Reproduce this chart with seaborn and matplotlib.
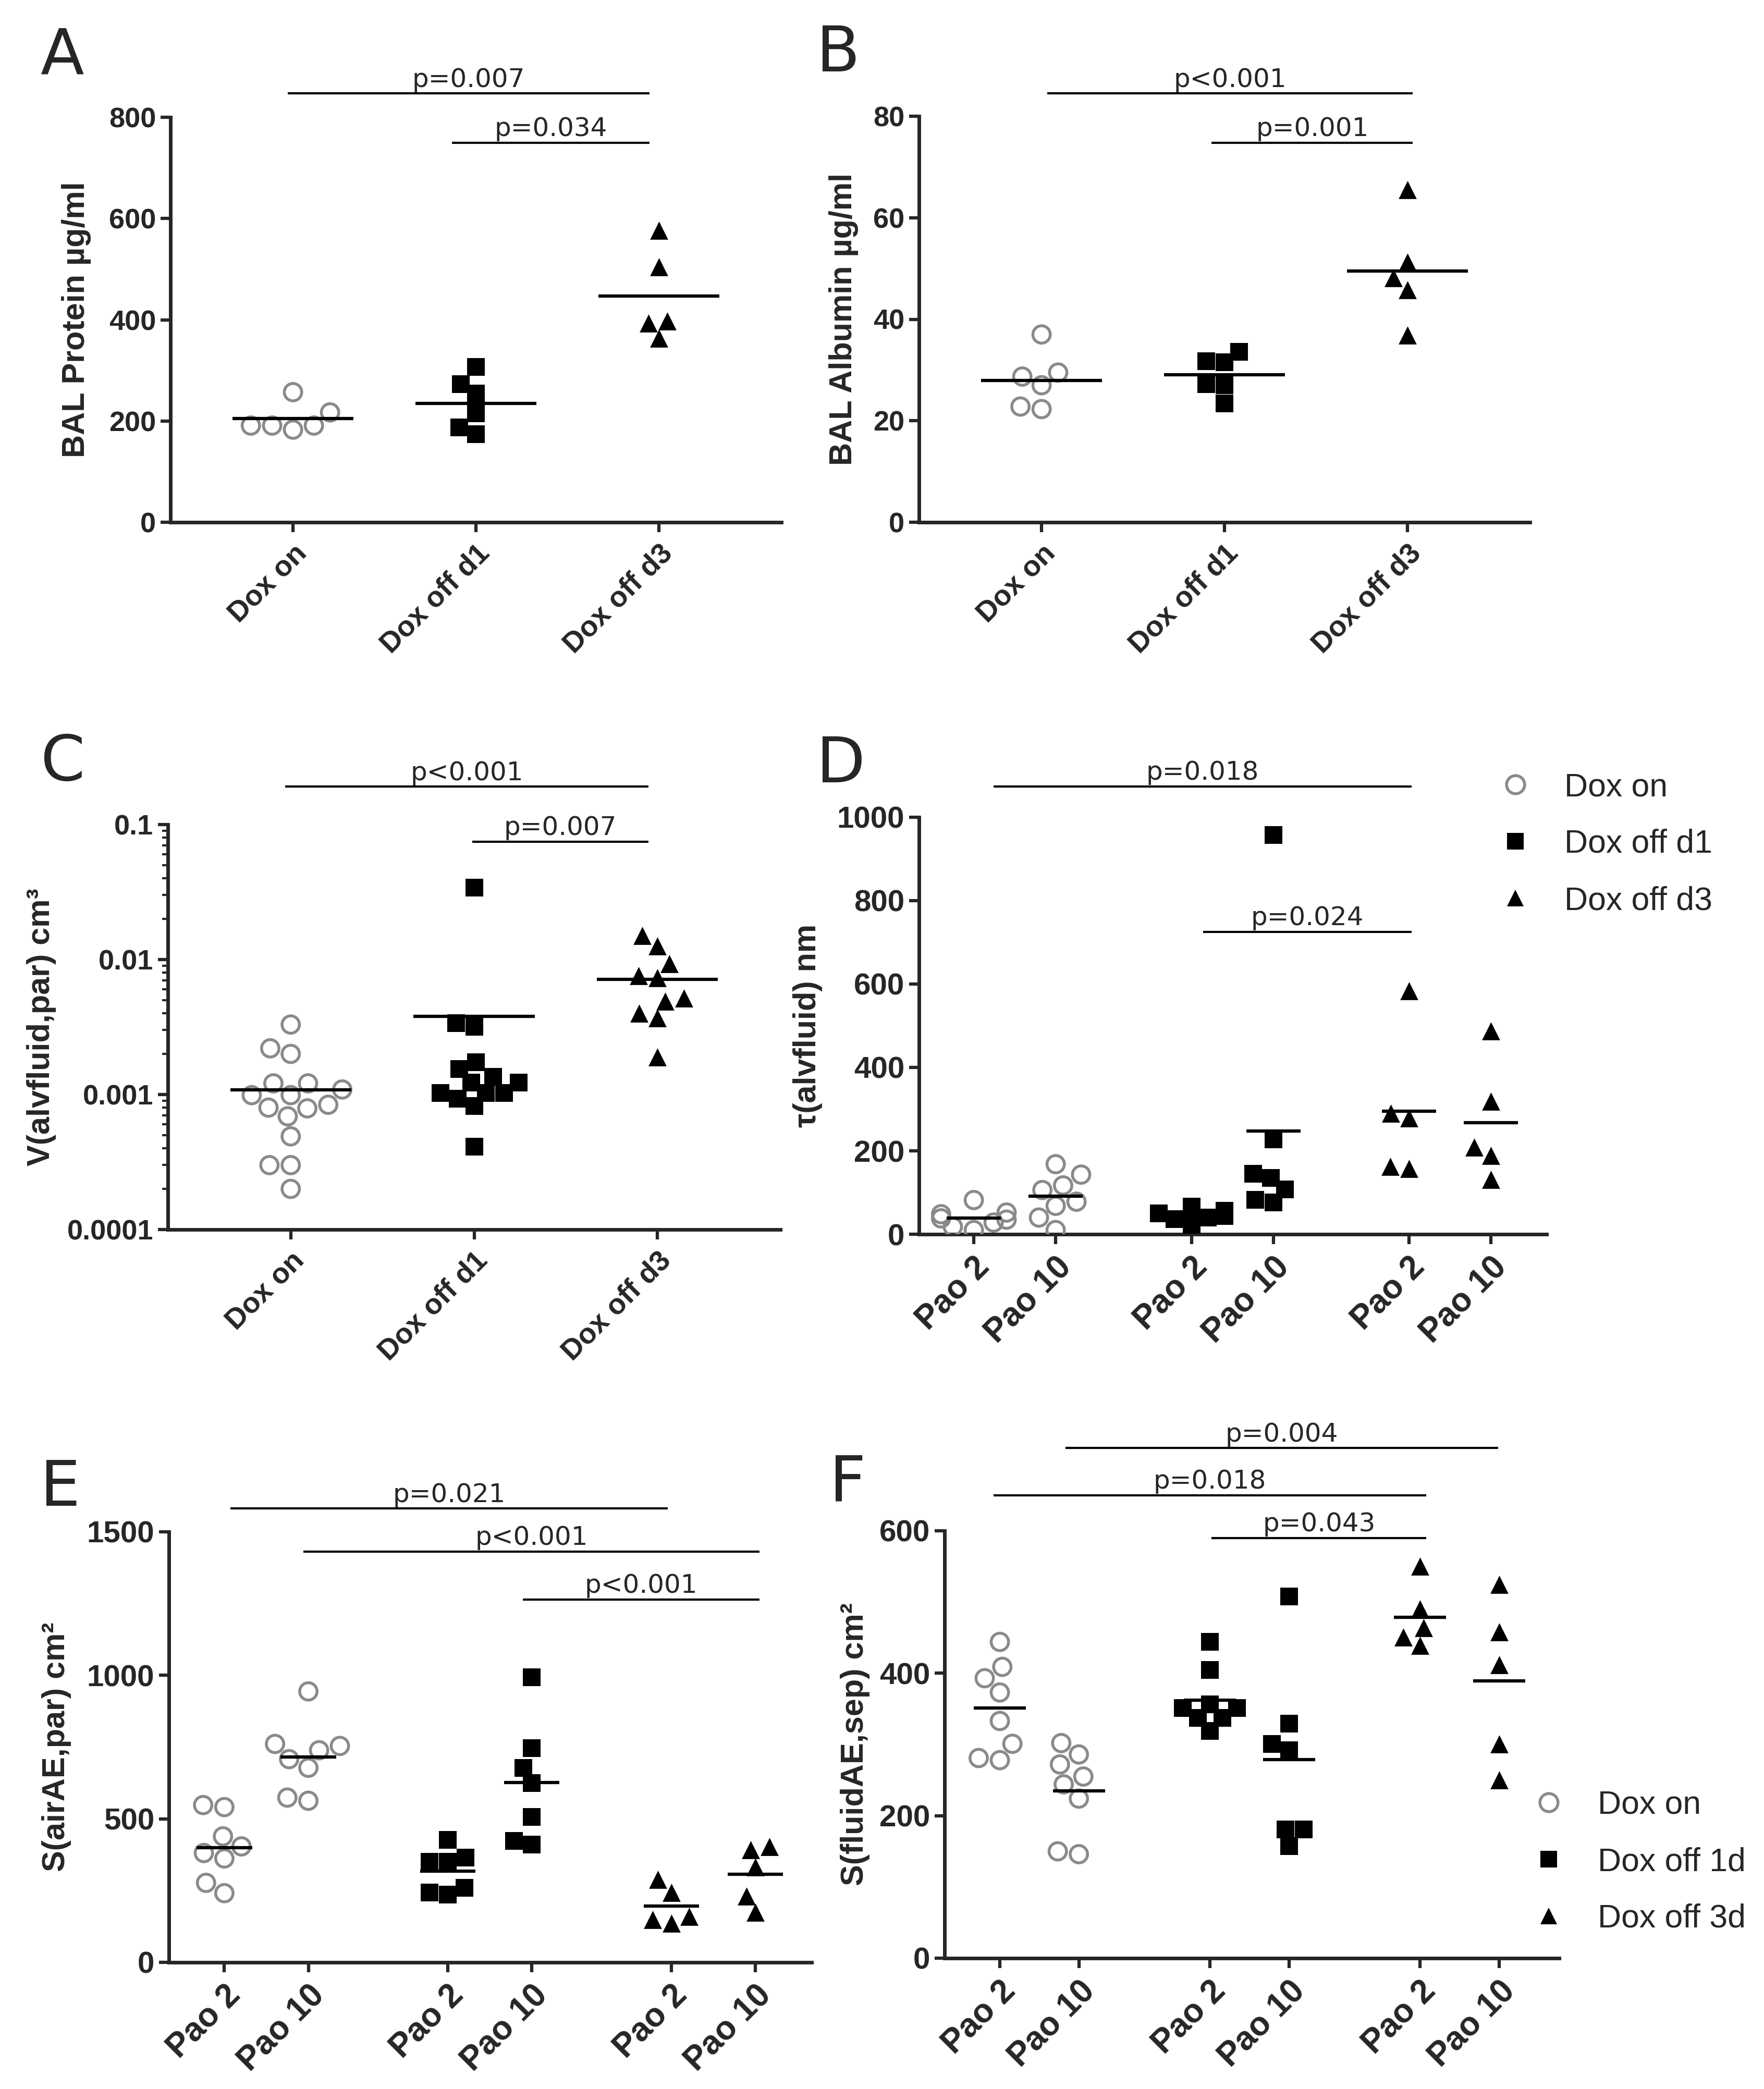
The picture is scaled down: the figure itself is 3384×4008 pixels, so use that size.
import numpy as np
import pandas as pd
import matplotlib
matplotlib.use('Agg')
import matplotlib.pyplot as plt
import seaborn as sns
from matplotlib.lines import Line2D
from matplotlib.ticker import LogLocator, NullFormatter

# ---------------------------------------------------------------
# data
# ---------------------------------------------------------------
groups = ['Dox on', 'Dox off d1', 'Dox off d3']
pao_labels = ['Pao 2', 'Pao 10']

# A  BAL protein
a_on = [257, 217, 191, 191, 191, 183]
a_d1 = [307, 273, 254, 215, 187, 174]
a_d3 = [577, 504, 397, 393, 363]

# B  BAL albumin
b_on = [37.0, 29.5, 28.7, 27.0, 22.8, 22.3]
b_d1 = [33.6, 31.7, 31.5, 27.2, 27.0, 23.4]
b_d3 = [65.5, 51.2, 48.2, 45.8, 36.9]

# C  V(alvfluid,par)
c_on = [0.0033, 0.0022, 0.0020, 0.00121, 0.00121, 0.00109, 0.00099, 0.00099,
        0.00084, 0.0008, 0.00079, 0.00069, 0.00049, 0.0003, 0.0003, 0.0002]
c_d1 = [0.0342, 0.00337, 0.00318, 0.00174, 0.00154, 0.00135, 0.00123, 0.00123,
        0.00103, 0.00103, 0.00103, 0.00093, 0.00082, 0.00041]
c_d3 = [0.0151, 0.0126, 0.0093, 0.0076, 0.0073, 0.0052, 0.0049, 0.0040, 0.0037, 0.0019]

# D  tau(alvfluid)   (Pao 2, Pao 10) per group
d_on = ([82, 52, 48, 38, 35, 28, 18, 10], [168, 143, 117, 106, 78, 68, 40, 10])
d_d1 = ([66, 56, 50, 44, 40, 36, 22], [958, 228, 145, 135, 108, 82, 76])
d_d3 = ([584, 290, 279, 162, 157], [488, 319, 209, 189, 131])

# E  S(airAE,par)
e_on = ([548, 541, 439, 404, 381, 362, 277, 241], [944, 761, 754, 739, 708, 678, 574, 563])
e_d1 = ([426, 365, 350, 350, 259, 244, 236], [993, 746, 678, 624, 507, 423, 411])
e_d3 = ([289, 244, 160, 149, 137], [404, 393, 332, 231, 175])

# F  S(fluidAE,sep)
f_on = ([444, 409, 393, 373, 333, 301, 281, 278], [302, 286, 272, 255, 244, 224, 150, 146])
f_d1 = ([444, 405, 356, 351, 351, 337, 337, 319], [508, 329, 301, 292, 181, 181, 157])
f_d3 = ([550, 490, 464, 451, 439], [525, 458, 412, 301, 250])

# significance bars: (x start, x end, y, text)
a_sig = [(-0.03, 1.95, 847, 'p=0.007'), (0.87, 1.95, 750, 'p=0.034')]
b_sig = [(0.03, 2.03, 84.5, 'p<0.001'), (0.93, 2.03, 74.8, 'p=0.001')]
c_sig = [(-0.03, 1.95, 0.191, 'p<0.001'), (0.99, 1.95, 0.0746, 'p=0.007')]
d_sig = [(0.24, 5.35, 1074, 'p=0.018'), (2.80, 5.35, 725, 'p=0.024')]
e_sig = [(0.07, 5.28, 1581, 'p=0.021'), (0.94, 6.37, 1431, 'p<0.001'),
         (3.55, 6.37, 1264, 'p<0.001')]
f_sig = [(0.83, 6.31, 716, 'p=0.004'), (-0.08, 5.40, 650, 'p=0.018'),
         (2.68, 5.40, 590, 'p=0.043')]

# ---------------------------------------------------------------
W, H, DPI = 3384, 4008, 100
GRAY = '#8a8a8a'
pair_base = [0, 2.66, 5.32]

sns.set_style('ticks')
plt.rcParams['font.family'] = ['Liberation Sans', 'DejaVu Sans']

styles = {
    'Dox on': dict(marker='o', color=GRAY, facecolor='none', edgecolor=GRAY,
                   linewidth=4, size=24),
    'Dox off d1': dict(marker='s', color='black', edgecolor='black', linewidth=0, size=24),
    'Dox off d3': dict(marker='^', color='black', edgecolor='black', linewidth=0, size=25),
}

fig = plt.figure(figsize=(W / DPI, H / DPI), dpi=DPI)


def add_ax(l, r, t, b):
    return fig.add_axes([l / W, 1 - b / H, (r - l) / W, (b - t) / H])


def style_axes(ax, ylabel, label_right, left_px, width_px, ytick_size):
    sns.despine(ax=ax)
    for s in ['left', 'bottom']:
        ax.spines[s].set_linewidth(5)
    ax.tick_params(axis='both', which='major', direction='out', length=14,
                   width=4.5, pad=6)
    ax.tick_params(axis='y', labelsize=ytick_size)
    ax.tick_params(axis='x', pad=10)
    for lab in ax.get_yticklabels():
        lab.set_fontweight('bold')
    ax.set_xlabel('')
    ax.set_ylabel(ylabel, fontsize=44, fontweight='bold')
    ax.yaxis.set_label_coords((label_right - left_px) / width_px, 0.5)


def add_sig(ax, sig):
    for x0, x1, y, txt in sig:
        ax.plot([x0, x1], [y, y], color='black', lw=3, clip_on=False, solid_capstyle='butt')
        ax.annotate(txt, xy=((x0 + x1) / 2, y), xytext=(0, 9), textcoords='offset points',
                    ha='center', va='baseline', fontsize=36, family='DejaVu Sans',
                    annotation_clip=False)


def cat_panel(rect, data, ylim, yticks, ylabel, label_right, sig, log=False, ticklabels=None):
    ax = add_ax(*rect)
    if log:
        ax.set_yscale('log')
    ax.set_ylim(*ylim)
    for i, (g, vals) in enumerate(zip(groups, data)):
        df = pd.DataFrame({'group': g, 'value': vals})
        sns.swarmplot(data=df, x='group', y='value', order=groups, ax=ax,
                      warn_thresh=1, zorder=3, **styles[g])
        ax.hlines(np.mean(vals), i - 0.33, i + 0.33, colors='black', lw=4.5, zorder=4)
    ax.set_xlim(-0.67, 2.67)
    ax.set_ylim(*ylim)
    ax.set_yticks(yticks, ticklabels if ticklabels else [str(t) for t in yticks])
    ax.set_xticks(range(3), groups, rotation=45, ha='right', rotation_mode='anchor',
                  fontsize=40, fontweight='bold')
    style_axes(ax, ylabel, label_right, rect[0], rect[1] - rect[0], 39)
    add_sig(ax, sig)
    return ax


def pair_panel(rect, data, xlim, ylim, yticks, ylabel, label_right, sig):
    ax = add_ax(*rect)
    ax.set_ylim(*ylim)
    positions = []
    for base, g, (v2, v10) in zip(pair_base, groups, data):
        df = pd.DataFrame({'pos': [base] * len(v2) + [base + 1] * len(v10),
                           'value': list(v2) + list(v10)})
        sns.swarmplot(data=df, x='pos', y='value', native_scale=True, orient='x', ax=ax,
                      warn_thresh=1, zorder=3, **styles[g])
        for p, vals in ((base, v2), (base + 1, v10)):
            ax.hlines(np.mean(vals), p - 0.33, p + 0.33, colors='black', lw=4.5, zorder=4)
            positions.append(p)
    ax.set_xlim(*xlim)
    ax.set_ylim(*ylim)
    ax.set_yticks(yticks, [str(t) for t in yticks])
    ax.set_xticks(positions, pao_labels * 3, rotation=45, ha='right', rotation_mode='anchor',
                  fontsize=46, fontweight='bold')
    style_axes(ax, ylabel, label_right, rect[0], rect[1] - rect[0], 42)
    add_sig(ax, sig)
    return ax


# A
cat_panel((327, 1499, 225, 1002), [a_on, a_d1, a_d3], (0, 800), [0, 200, 400, 600, 800],
          'BAL Protein µg/ml', 175, a_sig)
# B
cat_panel((1763, 2935, 223, 1002), [b_on, b_d1, b_d3], (0, 80), [0, 20, 40, 60, 80],
          'BAL Albumin µg/ml', 1647, b_sig)
# C
axc = cat_panel((322, 1497, 1582, 2359), [c_on, c_d1, c_d3], (1e-4, 0.1),
                [1e-4, 1e-3, 1e-2, 1e-1], 'V(alvfluid,par) cm³', 108, c_sig, log=True,
                ticklabels=['0.0001', '0.001', '0.01', '0.1'])
axc.yaxis.set_minor_locator(LogLocator(base=10, subs=np.arange(2, 10)))
axc.yaxis.set_minor_formatter(NullFormatter())
axc.tick_params(axis='y', which='minor', direction='out', length=8, width=3)

# D
axd = pair_panel((1763, 2967, 1568, 2368), [d_on, d_d1, d_d3], (-0.67, 7.0), (0, 1000),
                 [0, 200, 400, 600, 800, 1000], 'τ(alvfluid) nm', 1578, d_sig)
# E
axe = pair_panel((324, 1557, 2939, 3765), [e_on, e_d1, e_d3], (-0.66, 6.99), (0, 1500),
                 [0, 500, 1000, 1500], 'S(airAE,par) cm²', 137, e_sig)
# F
axf = pair_panel((1812, 2991, 2937, 3757), [f_on, f_d1, f_d3], (-0.70, 7.08), (0, 600),
                 [0, 200, 400, 600], 'S(fluidAE,sep) cm²', 1669, f_sig)


def legend_handles():
    return [Line2D([], [], ls='none', marker='o', ms=25, mfc='none', mec=GRAY, mew=4),
            Line2D([], [], ls='none', marker='s', ms=23, mfc='black', mec='black', mew=0),
            Line2D([], [], ls='none', marker='^', ms=23, mfc='black', mec='black', mew=0)]


fig.legend(legend_handles(), ['Dox on', 'Dox off d1', 'Dox off d3'], loc='upper left',
           bbox_to_anchor=(2876 / W, 1 - 1481 / H), frameon=False, fontsize=45,
           handlelength=1.0, handletextpad=1.0, labelspacing=0.8, borderpad=0,
           borderaxespad=0)
fig.legend(legend_handles(), ['Dox on', 'Dox off 1d', 'Dox off 3d'], loc='upper left',
           bbox_to_anchor=(2940 / W, 1 - 3434 / H), frameon=False, fontsize=45,
           handlelength=1.0, handletextpad=1.0, labelspacing=0.8, borderpad=0,
           borderaxespad=0)

# panel letters
for letter, x, y in [('A', 77, 142), ('B', 1566, 137), ('C', 77, 1497),
                     ('D', 1566, 1501), ('E', 77, 2889), ('F', 1591, 2880)]:
    fig.text(x / W, 1 - y / H, letter, fontsize=88, ha='left', va='baseline',
             family='DejaVu Sans')

fig.savefig('out.png', dpi=DPI, facecolor='white')
